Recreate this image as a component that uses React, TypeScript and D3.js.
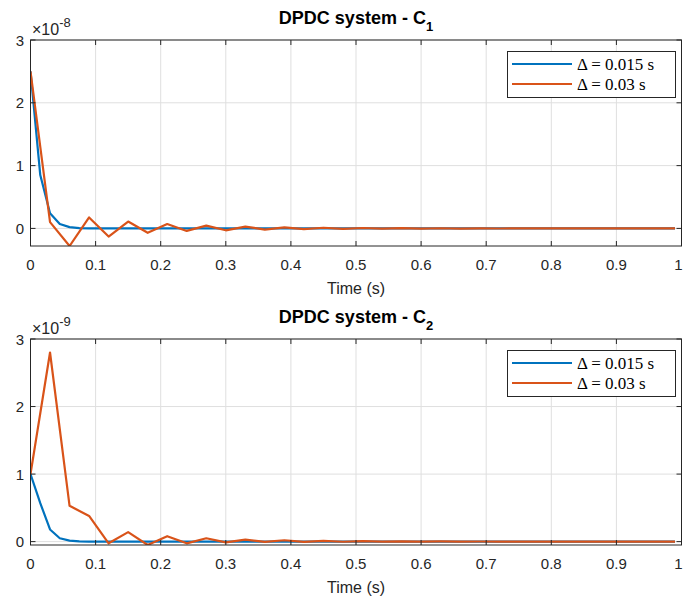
import React from 'react';
import * as d3 from 'd3';

// sample spacing of the two series (s)
const DT_FINE = 0.015;
const DT_COARSE = 0.03;

// C1, units of 1e-8
const c1Fine = [
  2.5, 0.85, 0.24, 0.07, 0.02, 0.006, 0.002, 0.0005, 0, 0, 0, 0, 0, 0, 0, 0, 0,
  0, 0, 0, 0, 0, 0, 0, 0, 0, 0, 0, 0, 0, 0, 0, 0, 0, 0, 0, 0, 0, 0, 0, 0, 0, 0,
  0, 0, 0, 0, 0, 0, 0, 0, 0, 0, 0, 0, 0, 0, 0, 0, 0, 0, 0, 0, 0, 0, 0, 0,
];
const c1Coarse = [
  2.5, 0.1, -0.28, 0.175, -0.13, 0.11, -0.07, 0.07, -0.04, 0.045, -0.03, 0.028,
  -0.018, 0.017, -0.011, 0.011, -0.007, 0.007, -0.004, 0.004, -0.003, 0.003,
  -0.002, 0.002, -0.001, 0.001, 0, 0, 0, 0, 0, 0, 0, 0,
];

// C2, units of 1e-9
const c2Fine = [
  1.0, 0.57, 0.18, 0.05, 0.015, 0.004, 0.001, 0, 0, 0, 0, 0, 0, 0, 0, 0, 0,
  0, 0, 0, 0, 0, 0, 0, 0, 0, 0, 0, 0, 0, 0, 0, 0, 0, 0, 0, 0, 0, 0, 0, 0, 0, 0,
  0, 0, 0, 0, 0, 0, 0, 0, 0, 0, 0, 0, 0, 0, 0, 0, 0, 0, 0, 0, 0, 0, 0, 0,
];
const c2Coarse = [
  1.0, 2.8, 0.53, 0.38, -0.025, 0.14, -0.05, 0.08, -0.025, 0.05, -0.01, 0.03,
  -0.005, 0.02, -0.003, 0.012, -0.002, 0.008, -0.001, 0.005, 0, 0.003, 0,
  0.002, 0, 0.001, 0, 0, 0, 0, 0, 0, 0, 0,
];

const xTicks = [0, 0.1, 0.2, 0.3, 0.4, 0.5, 0.6, 0.7, 0.8, 0.9, 1];
const yTicks = [0, 1, 2, 3];
const legendLabels = ['\u0394 = 0.015 s', '\u0394 = 0.03 s'];

const BLUE = '#0072BD';
const ORANGE = '#D95319';
const AX = '#262626';
const SANS = 'Liberation Sans, Arial, sans-serif';

const x = d3.scaleLinear().domain([0, 1]).range([30.5, 681.5]);
const PH = 206;

function Panel({ top, sub, fine, coarse, yMin, exp, id }: any) {
  const y = d3.scaleLinear().domain([yMin, 3]).range([top + PH, top]);
  const mk = (dt: number) =>
    d3.line<number>().x((d, i) => x(i * dt)).y((d) => y(d));
  const x0 = x(0), x1 = x(1), yb = top + PH;
  return (
    <g>
      <defs>
        <clipPath id={id}>
          <rect x={x0} y={top} width={x1 - x0} height={PH} />
        </clipPath>
      </defs>
      <rect x={x0} y={top} width={x1 - x0} height={PH} fill="#fff" />
      {xTicks.map((t) => (
        <line key={'gx' + t} x1={x(t)} x2={x(t)} y1={top} y2={yb} stroke="#dfdfdf" />
      ))}
      {yTicks.map((t) => (
        <line key={'gy' + t} x1={x0} x2={x1} y1={y(t)} y2={y(t)} stroke="#dfdfdf" />
      ))}
      <g clipPath={`url(#${id})`} fill="none" strokeWidth={2.2} strokeLinejoin="round">
        <path d={mk(DT_FINE)(fine) || ''} stroke={BLUE} />
        <path d={mk(DT_COARSE)(coarse) || ''} stroke={ORANGE} />
      </g>
      <rect x={x0} y={top} width={x1 - x0} height={PH} fill="none" stroke={AX} strokeWidth={1} />
      {xTicks.map((t) => (
        <g key={'tx' + t}>
          <line x1={x(t)} x2={x(t)} y1={yb} y2={yb - 5} stroke={AX} />
          <line x1={x(t)} x2={x(t)} y1={top} y2={top + 5} stroke={AX} />
          <text x={Math.min(x(t), 678.5)} y={yb + 24} textAnchor="middle" fontSize={15} fill={AX} fontFamily={SANS}>
            {String(t)}
          </text>
        </g>
      ))}
      {yTicks.map((t) => (
        <g key={'ty' + t}>
          <line x1={x0} x2={x0 + 5} y1={y(t)} y2={y(t)} stroke={AX} />
          <line x1={x1} x2={x1 - 5} y1={y(t)} y2={y(t)} stroke={AX} />
          <text x={24} y={y(t) + 5.5} textAnchor="end" fontSize={15} fill={AX} fontFamily={SANS}>
            {String(t)}
          </text>
        </g>
      ))}
      <text x={32} y={top - 5} fontSize={16} fill={AX} fontFamily={SANS}>
        {'\u00d710'}
        <tspan dy={-8} fontSize={13}>{exp}</tspan>
      </text>
      <text x={356} y={top - 16} textAnchor="middle" fontSize={18} fontWeight="bold" fill="#000" fontFamily={SANS}>
        DPDC system - C
        <tspan dy={7} fontSize={13}>{sub}</tspan>
      </text>
      <text x={(x0 + x1) / 2} y={yb + 48} textAnchor="middle" fontSize={16} fill={AX} fontFamily={SANS}>
        Time (s)
      </text>
      <g>
        <rect x={507.5} y={top + 11.5} width={168} height={46} fill="#fff" stroke={AX} />
        {legendLabels.map((lab, i) => (
          <g key={lab}>
            <line x1={512} x2={572} y1={top + 24 + i * 20} y2={top + 24 + i * 20}
              stroke={i === 0 ? BLUE : ORANGE} strokeWidth={2.2} />
            <text x={577} y={top + 29.5 + i * 20} fontSize={17} fill="#000"
              fontFamily="Liberation Serif, Times New Roman, serif">
              {lab}
            </text>
          </g>
        ))}
      </g>
    </g>
  );
}

export default function App() {
  return (
    <svg width={683} height={598} style={{ position: 'absolute', left: 0, top: 0, background: '#fff' }}>
      <rect width={683} height={598} fill="#fff" />
      <Panel id="c1" top={40} sub="1" fine={c1Fine} coarse={c1Coarse} yMin={-0.28} exp="-8" />
      <Panel id="c2" top={339} sub="2" fine={c2Fine} coarse={c2Coarse} yMin={-0.05} exp="-9" />
    </svg>
  );
}
